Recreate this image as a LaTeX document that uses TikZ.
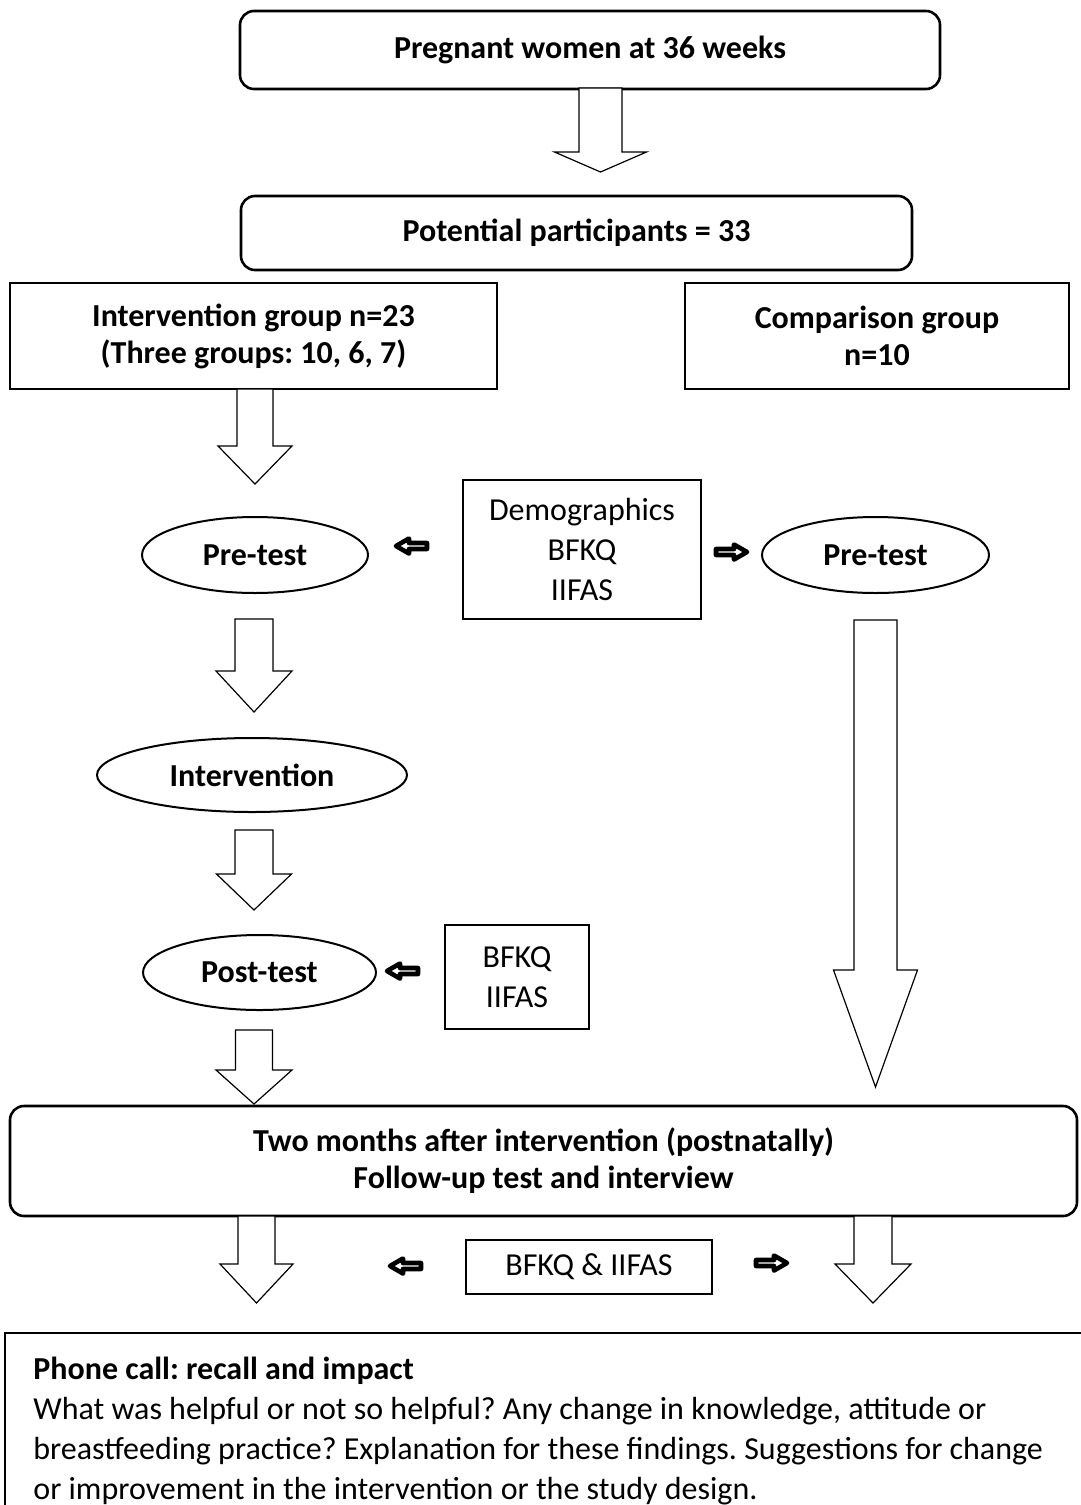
\documentclass[tikz,border=0pt]{standalone}
\usepackage{fontspec}
\setmainfont{Carlito}
\frenchspacing
\usetikzlibrary{shapes.geometric}

\tikzset{
    base/.style={draw, line width=1pt, align=center, inner sep=0pt, font=\fontsize{16}{18.5}\selectfont\bfseries},
    rbox/.style={base, rounded corners=7pt, line width=1.3pt},
    sbox/.style={base},
    oval/.style={base, ellipse},
    infobox/.style={draw, line width=0.8pt, align=center, inner sep=0pt, font=\fontsize{16}{20}\selectfont},
    arrline/.style={draw, line width=0.6pt, line join=miter, fill=white},
    fatline/.style={draw, line width=2.3pt, line join=round},
    fatarrow/.pic={
        \draw[fatline] (-16,-3) -- (2,-3) -- (2,-7.5) -- (15,0) -- (2,7.5) -- (2,3) -- (-16,3) -- cycle;
    },
}

% x, top, head, tip, shaft half width, head half width
\newcommand{\blockarrow}[6]{%
    \draw[arrline] (#1-#5,#2) -- (#1+#5,#2) -- (#1+#5,#3) -- (#1+#6,#3) -- (#1,#4)
        -- (#1-#6,#3) -- (#1-#5,#3) -- cycle;}

\begin{document}
\begin{tikzpicture}[x=0.5pt, y=-0.5pt]
    \useasboundingbox (0,0) rectangle (1081,1505);

    % boxes
    \node[rbox, minimum width=350pt, minimum height=39pt] (preg) at (590,50) {Pregnant women at 36 weeks};
    \node[rbox, minimum width=335.5pt, minimum height=37pt] (pot) at (576.5,233) {Potential participants = 33};
    \node[sbox, minimum width=243.5pt, minimum height=53pt] (intg) at (253.5,336) {Intervention group n=23\\(Three groups: 10, 6, 7)};
    \node[sbox, minimum width=192pt, minimum height=53pt] (comp) at (877,336) {Comparison group\\n=10};

    \node[oval, minimum width=113pt, minimum height=38pt] (pre1) at (255,555) {Pre-test};
    \node[infobox, minimum width=119pt, minimum height=69.5pt] (demo) at (582,549.5) {Demographics\\BFKQ\\IIFAS};
    \node[oval, minimum width=113.5pt, minimum height=38pt] (pre2) at (875.5,555) {Pre-test};

    \node[oval, minimum width=155pt, minimum height=37pt] (interv) at (252,775) {Intervention};
    \node[oval, minimum width=116.5pt, minimum height=37.5pt] (post) at (259.5,972.5) {Post-test};
    \node[infobox, minimum width=72pt, minimum height=52pt] (bf1) at (517,977) {BFKQ\\IIFAS};

    \node[rbox, minimum width=533.5pt, minimum height=55pt] (two) at (543.5,1161) {Two months after intervention (postnatally)\\Follow-up test and interview};
    \node[infobox, minimum width=123pt, minimum height=27pt] (bf2) at (589,1267) {BFKQ \& IIFAS};

    \draw[line width=1pt] (5,1333) rectangle (1100,1530);
    \node[anchor=north west, align=left, inner sep=0pt, font=\fontsize{16}{20}\selectfont] (phone) at (33,1357)
        {\textbf{Phone call: recall and impact}\\
         What was helpful or not so helpful? Any change in knowledge, attitude or\\
         breastfeeding practice? Explanation for these findings. Suggestions for change\\
         or improvement in the intervention or the study design.};

    % block arrows
    \blockarrow{600.5}{88}{152}{172}{21.5}{46}
    \blockarrow{255}{389}{446}{484}{18}{37}
    \blockarrow{254}{619}{671}{712}{19}{38}
    \blockarrow{254}{830}{874}{910}{19}{37.5}
    \blockarrow{254}{1030}{1070}{1104}{18.5}{38}
    \blockarrow{875.5}{620}{970}{1087}{21.5}{42}
    \blockarrow{256.5}{1216}{1264}{1303}{18.5}{36.5}
    \blockarrow{873}{1216}{1264}{1303}{19}{38}

    % small arrows
    \pic[rotate=180] at (411,546) {fatarrow};
    \pic at (732,552) {fatarrow};
    \pic[rotate=180] at (402,971) {fatarrow};
    \pic[rotate=180] at (405,1266) {fatarrow};
    \pic at (772,1263) {fatarrow};
\end{tikzpicture}
\end{document}
